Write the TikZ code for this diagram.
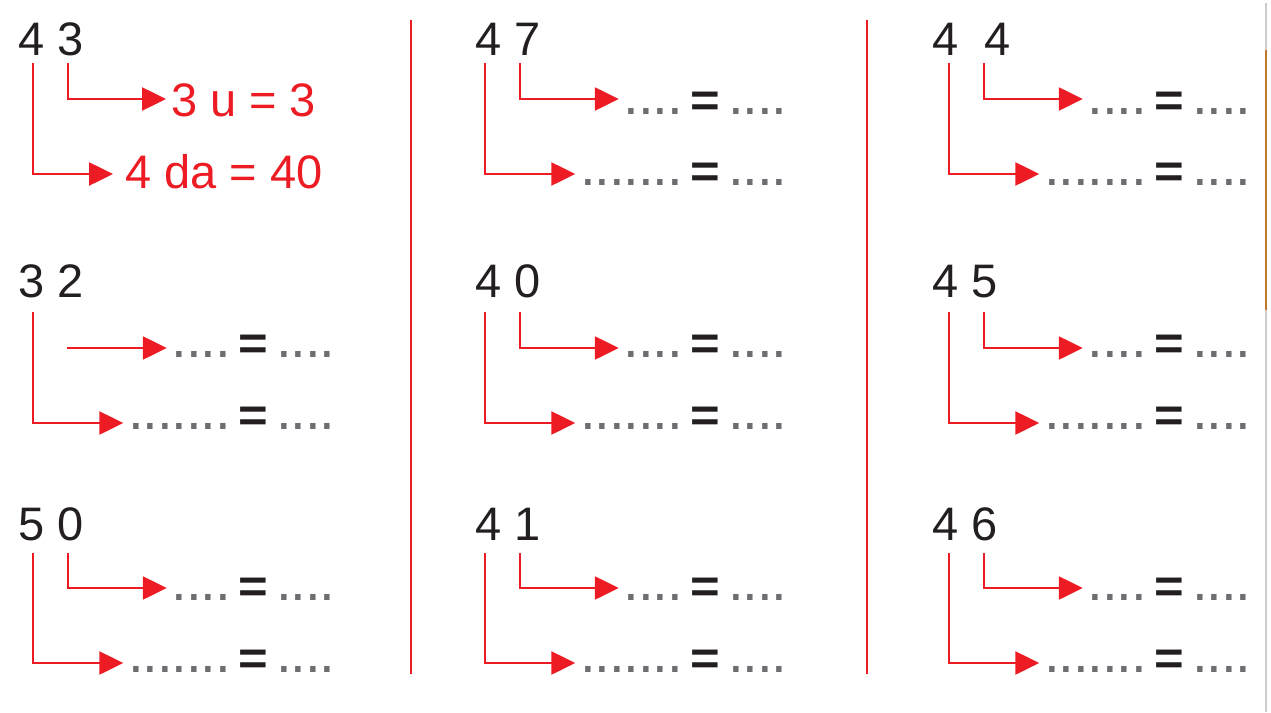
\documentclass[tikz,border=0pt]{standalone}
\usepackage{fontspec}
\setmainfont{Liberation Sans}
\usetikzlibrary{arrows.meta}
\definecolor{mred}{HTML}{ED1C24}
\definecolor{ink}{HTML}{231F20}
\definecolor{dotgray}{HTML}{6D6E71}
\definecolor{edgegray}{HTML}{CCCCCC}
\definecolor{edgeorange}{HTML}{C07A30}
\newcommand\bigf{\fontsize{47pt}{56pt}\selectfont}
\newcommand\dd{\makebox[14.5pt]{\scalebox{1.2}{.}}}
\newcommand\shortd{{\color{dotgray}\dd\dd\dd\dd}}
\newcommand\longd{{\color{dotgray}\dd\dd\dd\dd\dd\dd\dd}}
\newcommand\eqpart{\hspace{8.5pt}{\color{ink}\bfseries\raisebox{-2pt}{\scalebox{1.08}[1]{=}}}\hspace{8.5pt}}
\newcommand\rowparams[1]{\ifcase#1\or
 \def\dB{55}\def\vS{63}\def\aU{99}\def\aL{174}\def\bU{114.5}\def\bL{185.5}\or
 \def\dB{297}\def\vS{312}\def\aU{348}\def\aL{423}\def\bU{357.5}\def\bL{429.5}\or
 \def\dB{540}\def\vS{553}\def\aU{588}\def\aL{663}\def\bU{600.5}\def\bL{672.5}\fi}
\newcommand\qtask[5]{%
 \rowparams{#3}%
 \pgfmathsetmacro\dU{\bU-\aU}\pgfmathsetmacro\dL{\bL-\aL}%
 \node[num] (#1n) at (#4,\dB) {#5};
 \coordinate (#1a) at (#2+33,\vS);
 \coordinate (#1b) at (#2+68,\vS);
 \node[ans] (#1u) at (#2+172.25,\bU) {\shortd\eqpart\shortd};
 \node[ans] (#1l) at (#2+128.75,\bL) {\longd\eqpart\shortd};
 \draw[arr] (#1b) |- ([shift={(-5.5pt,\dU pt)}]#1u.base west);
 \draw[arr] (#1a) |- ([shift={(-5.5pt,\dL pt)}]#1l.base west);
}
\begin{document}
\begin{tikzpicture}[x=1pt,y=-1pt,
  num/.style={anchor=base west,inner sep=0pt,outer sep=0pt,font=\bigf,text=ink},
  ans/.style={anchor=base west,inner sep=0pt,outer sep=0pt,font=\bigf},
  ex/.style={anchor=base west,inner sep=0pt,outer sep=0pt,font=\bigf,text=mred},
  arr/.style={draw=mred,line width=2.6pt,line join=miter,-{Triangle[length=24pt,width=23pt]}},
  sep/.style={draw=mred,line width=2.3pt}]
\useasboundingbox[fill=white] (0,0) rectangle (1271,712);
% separators
\coordinate (s1t) at (410.7,20); \coordinate (s1b) at (410.7,674);
\coordinate (s2t) at (867,20); \coordinate (s2b) at (867,674);
\draw[sep] (s1t) -- (s1b);
\draw[sep] (s2t) -- (s2b);
% right border
\coordinate (e1) at (1266,3); \coordinate (e2) at (1266,712);
\coordinate (o1) at (1266,50); \coordinate (o2) at (1266,310);
\draw[edgegray,line width=1.3pt] (e1) -- (e2);
\draw[edgeorange,line width=1.5pt] (o1) -- (o2);
% example 43
\node[num] (a1n) at (18,55) {4 3};
\coordinate (a1a) at (33,63);
\coordinate (a1b) at (68,63);
\node[ex] (a1u) at (171,116) {3 u = 3};
\node[ex] (a1l) at (125.5,188) {4 da = 40};
\draw[arr] (a1b) |- ([shift={(-5pt,17pt)}]a1u.base west);
\draw[arr] (a1a) |- ([shift={(-12.5pt,14pt)}]a1l.base west);
% 32 (upper arrow without stem)
\rowparams{2}
\pgfmathsetmacro\dL{\bL-\aL}
\node[num] (b1n) at (18,\dB) {3 2};
\coordinate (b1a) at (33,\vS);
\coordinate (b1b) at (67,\aU);
\node[ans] (b1u) at (172.25,\bU) {\shortd\eqpart\shortd};
\node[ans] (b1l) at (128.75,\bL) {\longd\eqpart\shortd};
\draw[arr] (b1b) -- ([xshift=-5.5pt]b1b -| b1u.base west);
\draw[arr] (b1a) |- ([shift={(-5.5pt,\dL pt)}]b1l.base west);
% the others
\qtask{c1}{0}{3}{18}{5 0}
\qtask{a2}{452}{1}{475}{4 7}
\qtask{b2}{452}{2}{475}{4 0}
\qtask{c2}{452}{3}{475}{4 1}
\qtask{a3}{916}{1}{932}{4 \hspace{13pt}4}
\qtask{b3}{916}{2}{932}{4 5}
\qtask{c3}{916}{3}{932}{4 6}
\end{tikzpicture}
\end{document}
